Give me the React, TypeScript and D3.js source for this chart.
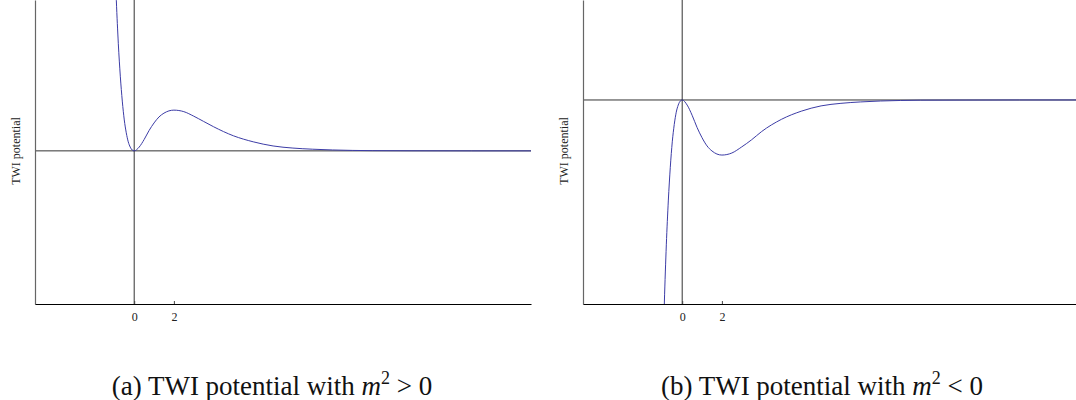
import React, { useRef, useEffect } from 'react';
import * as d3 from 'd3';

// sample points
const phi = [-1.0, -0.9, -0.8, -0.7, -0.6, -0.5, -0.4, -0.3, -0.2, -0.1, 0, 0.25, 0.5, 0.75, 1, 1.25, 1.5, 1.75, 2, 2.5, 3, 3.5, 4, 5, 6, 7, 8, 9, 10, 11, 12, 14, 17, 20];
const potentialPos = [2.72, 1.99, 1.42, 0.99, 0.66, 0.41, 0.24, 0.12, 0.05, 0.011, 0, 0.05, 0.15, 0.27, 0.37, 0.45, 0.5, 0.53, 0.54, 0.52, 0.46, 0.39, 0.32, 0.2, 0.12, 0.065, 0.037, 0.022, 0.012, 0.006, 0.003, 0.001, 0, 0];
const potentialNeg = [-2.72, -1.99, -1.42, -0.99, -0.66, -0.41, -0.24, -0.12, -0.05, -0.011, 0, -0.05, -0.15, -0.27, -0.37, -0.45, -0.5, -0.53, -0.54, -0.52, -0.46, -0.39, -0.31, -0.19, -0.11, -0.058, -0.033, -0.019, -0.01, -0.005, -0.002, -0.001, 0, 0];
const xTicks = [0, 2];
const yLabel = 'TWI potential';
const captions = [
  { tag: '(a) TWI potential with ', rel: '>' },
  { tag: '(b) TWI potential with ', rel: '<' }
];

const SERIF = '"Liberation Serif", "Times New Roman", serif';

const panels = [
  { values: potentialPos, left: 35, yDomain: [-2.03, 2], capX: 272 },
  { values: potentialNeg, left: 583, yDomain: [-2, 0.98], capX: 822 }
];

const App = () => {
  const svgRef = useRef(null);

  useEffect(() => {
    const svg = d3.select(svgRef.current);
    svg.selectAll('*').remove();
    const plotW = 496;
    const bottom = 304;

    panels.forEach((p, i) => {
      const x = d3.scaleLinear().domain([-5, 20]).range([p.left, p.left + plotW]);
      const y = d3.scaleLinear().domain(p.yDomain).range([bottom, 0]);
      const g = svg.append('g');

      const clipId = `clip-${i}`;
      g.append('clipPath')
        .attr('id', clipId)
        .append('rect')
        .attr('x', p.left)
        .attr('y', -50)
        .attr('width', plotW)
        .attr('height', bottom + 50);

      // zero lines
      g.append('line')
        .attr('x1', p.left)
        .attr('x2', p.left + plotW)
        .attr('y1', y(0))
        .attr('y2', y(0))
        .attr('stroke', '#333')
        .attr('stroke-width', 1);
      g.append('line')
        .attr('x1', x(0))
        .attr('x2', x(0))
        .attr('y1', -10)
        .attr('y2', bottom)
        .attr('stroke', '#333')
        .attr('stroke-width', 1);

      // left axis line
      const yAxis = g.append('g')
        .attr('transform', `translate(${p.left},0)`)
        .call(d3.axisLeft(y).tickValues([]).tickSizeOuter(0));
      yAxis.select('.domain').attr('stroke', '#666').attr('stroke-width', 1.2);

      // bottom axis with inward ticks
      const xAxis = g.append('g')
        .attr('transform', `translate(0,${bottom})`)
        .call(d3.axisBottom(x).tickValues(xTicks).tickSizeInner(-3).tickSizeOuter(0).tickPadding(8));
      xAxis.select('.domain').attr('stroke', '#000').attr('stroke-width', 1.2);
      xAxis.selectAll('.tick line').attr('stroke', '#444');
      xAxis.selectAll('text')
        .attr('font-family', SERIF)
        .attr('font-size', 12)
        .attr('fill', '#222');

      const line = d3.line()
        .x((d, k) => x(phi[k]))
        .y(d => y(d))
        .curve(d3.curveMonotoneX);
      g.append('path')
        .datum(p.values)
        .attr('clip-path', `url(#${clipId})`)
        .attr('d', line)
        .attr('fill', 'none')
        .attr('stroke', '#3c3ca6')
        .attr('stroke-width', 1);

      g.append('text')
        .attr('transform', `translate(${p.left - 19},151) rotate(-90)`)
        .attr('text-anchor', 'middle')
        .attr('dy', '0.35em')
        .attr('font-family', SERIF)
        .attr('font-size', 12)
        .attr('fill', '#222')
        .text(yLabel);

      const cap = g.append('text')
        .attr('x', p.capX)
        .attr('y', 395)
        .attr('text-anchor', 'middle')
        .attr('font-family', SERIF)
        .attr('font-size', 27)
        .attr('fill', '#111');
      cap.append('tspan').text(captions[i].tag);
      cap.append('tspan').attr('font-style', 'italic').text('m');
      cap.append('tspan').attr('font-size', 18).attr('dy', -11).text('2');
      cap.append('tspan').attr('dy', 11).text(` ${captions[i].rel} 0`);
    });
  }, []);

  return (
    <svg
      ref={svgRef}
      width={1076}
      height={400}
      style={{ position: 'absolute', left: 0, top: 0, background: '#fff' }}
    />
  );
};

export default App;
